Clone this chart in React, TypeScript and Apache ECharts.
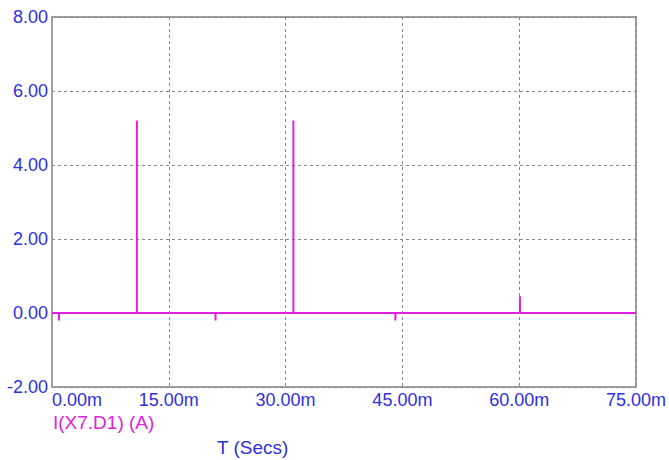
import React, { useEffect, useRef } from "react";
import * as echarts from "echarts";

const spikeTimesMs = [0.9, 10.9, 21.0, 31.0, 44.1, 60.1];
const spikePeaksA = [-0.2, 5.2, -0.2, 5.2, -0.2, 0.45];
const timeRangeMs = [0, 75];
const yTicks = [-2, 0, 2, 4, 6, 8];
const seriesName = "I(X7.D1) (A)";
const xAxisTitle = "T (Secs)";

function buildPoints(): [number, number][] {
  const pts: [number, number][] = [[timeRangeMs[0], 0]];
  spikeTimesMs.forEach((t, i) => {
    pts.push([t, 0]);
    pts.push([t, spikePeaksA[i]]);
    pts.push([t, 0]);
  });
  pts.push([timeRangeMs[1], 0]);
  return pts;
}

const BLUE = "#2f2fe0";
const MAGENTA = "#e020e0";

export default function App() {
  const ref = useRef<HTMLDivElement>(null);
  useEffect(() => {
    if (!ref.current) return;
    const chart = echarts.init(ref.current, null, { renderer: "svg" });
    chart.setOption({
      animation: false,
      backgroundColor: "#ffffff",
      grid: {
        left: 52,
        right: 31,
        top: 17,
        bottom: 73,
        show: true,
        borderColor: "#a0a0a0",
        borderWidth: 2,
        containLabel: false,
      },
      xAxis: {
        type: "value",
        min: timeRangeMs[0],
        max: timeRangeMs[1],
        interval: 15,
        axisLine: { show: true, lineStyle: { color: "#a0a0a0", width: 2 } },
        axisTick: { show: false },
        splitLine: {
          show: true,
          lineStyle: { color: "#888888", type: [3, 3], width: 1 },
        },
        axisLabel: {
          color: BLUE,
          fontFamily: "Liberation Sans, Arial, sans-serif",
          fontSize: 18,
          margin: 4,
          alignMinLabel: "left",
          formatter: (v: number) => v.toFixed(2) + "m",
        },
      },
      yAxis: {
        type: "value",
        min: yTicks[0],
        max: yTicks[yTicks.length - 1],
        interval: 2,
        axisLine: { show: true, lineStyle: { color: "#a0a0a0", width: 2 } },
        axisTick: { show: false },
        splitLine: {
          show: true,
          lineStyle: { color: "#888888", type: [3, 3], width: 1 },
        },
        axisLabel: {
          color: BLUE,
          fontFamily: "Liberation Sans, Arial, sans-serif",
          fontSize: 18,
          margin: 4,
          formatter: (v: number) => v.toFixed(2),
        },
      },
      series: [
        {
          name: seriesName,
          type: "line",
          data: buildPoints(),
          showSymbol: false,
          symbol: "none",
          lineStyle: { color: MAGENTA, width: 2 },
          z: 5,
        },
      ],
      graphic: [
        {
          type: "text",
          left: 53,
          top: 413,
          style: {
            text: seriesName,
            fill: MAGENTA,
            font: "19px 'Liberation Sans', Arial, sans-serif",
          },
        },
        {
          type: "text",
          left: 217,
          top: 438,
          style: {
            text: xAxisTitle,
            fill: BLUE,
            font: "19px 'Liberation Sans', Arial, sans-serif",
          },
        },
      ],
    });
    return () => chart.dispose();
  }, []);
  return (
    <div
      ref={ref}
      style={{ position: "fixed", left: 0, top: 0, width: 669, height: 460 }}
    />
  );
}
